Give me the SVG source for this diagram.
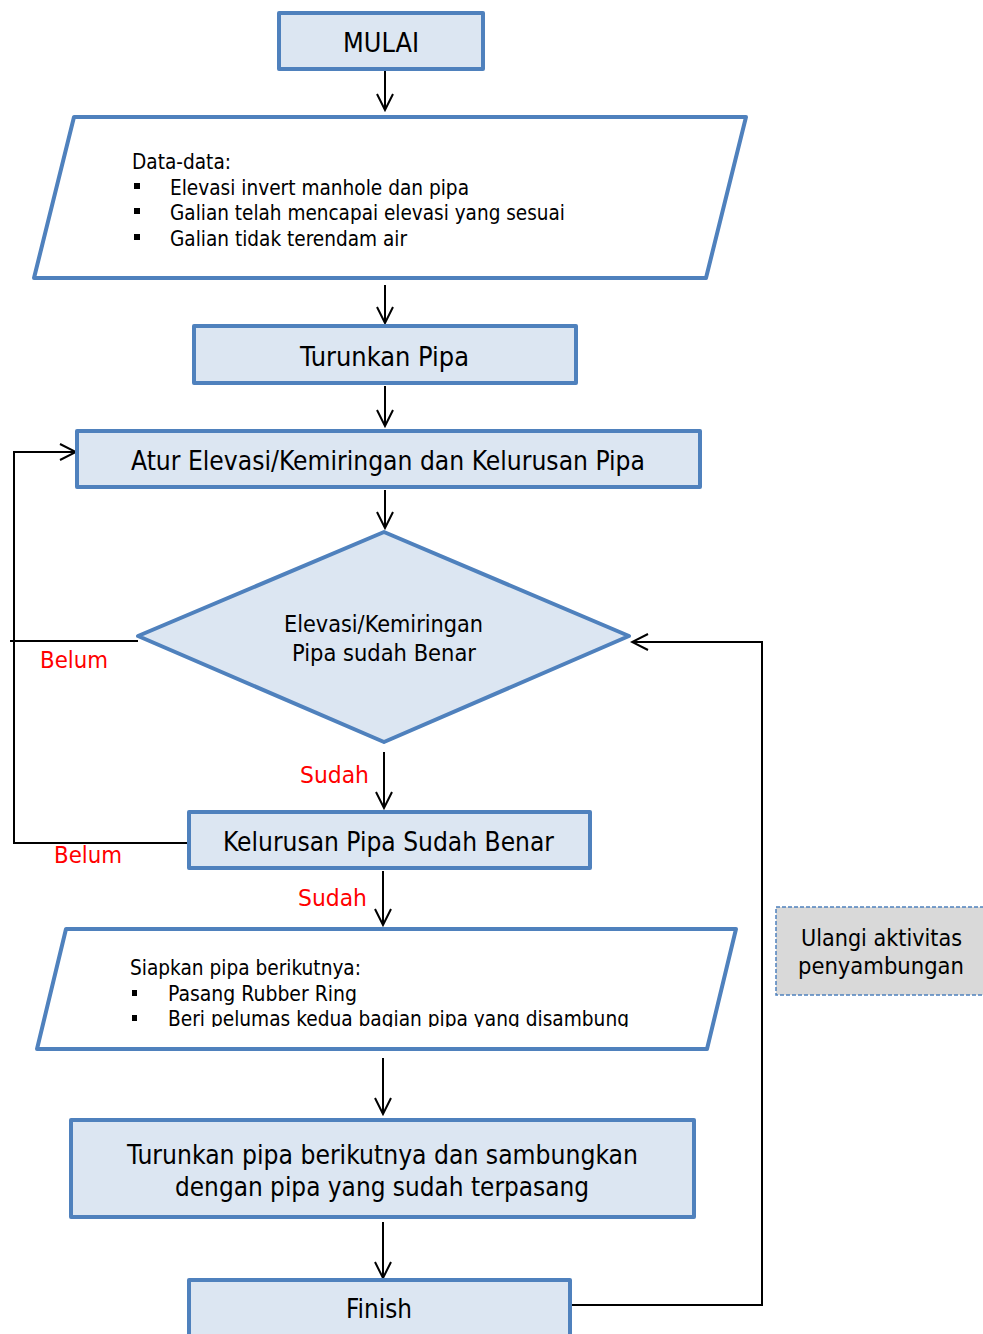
<svg xmlns="http://www.w3.org/2000/svg" width="983" height="1334" viewBox="0 0 983 1334">
<style>
.box{fill:#DCE6F2;stroke:#4F81BD;stroke-width:4;stroke-linejoin:round}
.io{fill:#FFFFFF;stroke:#4F81BD;stroke-width:4;stroke-linejoin:round}
.note{fill:#D9D9D9;stroke:#4F81BD;stroke-width:1.5;stroke-dasharray:4 2}
.t{font-family:"DejaVu Sans Condensed","DejaVu Sans",sans-serif;fill:#000}
.r{font-family:"DejaVu Sans Condensed","DejaVu Sans",sans-serif;fill:#FF0000;font-size:23px}
.c{fill:none;stroke:#000;stroke-width:2}
</style>
<defs>
<marker id="ah" viewBox="0 0 20 20" refX="18" refY="10" markerWidth="20" markerHeight="20" markerUnits="userSpaceOnUse" orient="auto">
<path d="M2,2 L18,10 L2,18" fill="none" stroke="#000" stroke-width="2"/>
</marker>
<clipPath id="clip2"><rect x="0" y="900" width="983" height="127"/></clipPath>
</defs>

<g id="connectors">
<line class="c" x1="385" y1="71" x2="385" y2="110" marker-end="url(#ah)"/>
<line class="c" x1="385" y1="285" x2="385" y2="323" marker-end="url(#ah)"/>
<line class="c" x1="385" y1="386" x2="385" y2="426" marker-end="url(#ah)"/>
<line class="c" x1="385" y1="490" x2="385" y2="528" marker-end="url(#ah)"/>
<line class="c" x1="384" y1="752" x2="384" y2="808" marker-end="url(#ah)"/>
<line class="c" x1="383" y1="871" x2="383" y2="925" marker-end="url(#ah)"/>
<line class="c" x1="383" y1="1058" x2="383" y2="1114" marker-end="url(#ah)"/>
<line class="c" x1="383" y1="1222" x2="383" y2="1278" marker-end="url(#ah)"/>
<polyline class="c" points="138,641 10,641"/>
<polyline class="c" points="189,843 14,843 14,452 76,452" marker-end="url(#ah)"/>
<polyline class="c" points="570,1305 762,1305 762,642 632,642" marker-end="url(#ah)"/>
<text class="r" x="40" y="668" textLength="68" lengthAdjust="spacingAndGlyphs">Belum</text>
<text class="r" x="54" y="863" textLength="68" lengthAdjust="spacingAndGlyphs">Belum</text>
<text class="r" x="300" y="783" textLength="69" lengthAdjust="spacingAndGlyphs">Sudah</text>
<text class="r" x="298" y="906" textLength="69" lengthAdjust="spacingAndGlyphs">Sudah</text>
</g>

<g id="mulai">
<rect class="box" x="279" y="13" width="204" height="56"/>
<text class="t" x="343" y="52" font-size="26" textLength="76" lengthAdjust="spacingAndGlyphs">MULAI</text>
</g>

<g id="data">
<polygon class="io" points="74,117 746,117 706,278 34,278"/>
<text class="t" x="132" y="169" font-size="20.5" textLength="99" lengthAdjust="spacingAndGlyphs">Data-data:</text>
<rect x="134" y="183" width="6" height="6"/>
<rect x="134" y="208" width="6" height="6"/>
<rect x="134" y="234" width="6" height="6"/>
<text class="t" x="170" y="195" font-size="20.5" textLength="299" lengthAdjust="spacingAndGlyphs">Elevasi invert manhole dan pipa</text>
<text class="t" x="170" y="220" font-size="20.5" textLength="395" lengthAdjust="spacingAndGlyphs">Galian telah mencapai elevasi yang sesuai</text>
<text class="t" x="170" y="246" font-size="20.5" textLength="237" lengthAdjust="spacingAndGlyphs">Galian tidak terendam air</text>
</g>

<g id="turunkan">
<rect class="box" x="194" y="326" width="382" height="57"/>
<text class="t" x="300" y="366" font-size="26.5" textLength="169" lengthAdjust="spacingAndGlyphs">Turunkan Pipa</text>
</g>

<g id="atur">
<rect class="box" x="77" y="431" width="623" height="56"/>
<text class="t" x="131" y="470" font-size="27" textLength="514" lengthAdjust="spacingAndGlyphs">Atur Elevasi/Kemiringan dan Kelurusan Pipa</text>
</g>

<g id="cek-elevasi">
<polygon class="box" points="384,532 629,636 384,742 138,636"/>
<text class="t" x="284" y="632" font-size="23" textLength="199" lengthAdjust="spacingAndGlyphs">Elevasi/Kemiringan</text>
<text class="t" x="292" y="661" font-size="23" textLength="184" lengthAdjust="spacingAndGlyphs">Pipa sudah Benar</text>
</g>

<g id="kelurusan">
<rect class="box" x="189" y="812" width="401" height="56"/>
<text class="t" x="223" y="851" font-size="26" textLength="331" lengthAdjust="spacingAndGlyphs">Kelurusan Pipa Sudah Benar</text>
</g>

<g id="siapkan">
<polygon class="io" points="66,929 736,929 707,1049 37,1049"/>
<text class="t" x="130" y="975" font-size="20.5" textLength="231" lengthAdjust="spacingAndGlyphs">Siapkan pipa berikutnya:</text>
<rect x="132" y="990" width="5" height="6"/>
<rect x="132" y="1015" width="5" height="6"/>
<text class="t" x="168" y="1001" font-size="20.5" textLength="189" lengthAdjust="spacingAndGlyphs">Pasang Rubber Ring</text>
<text class="t" x="168" y="1026" font-size="20.5" textLength="461" lengthAdjust="spacingAndGlyphs" clip-path="url(#clip2)">Beri pelumas kedua bagian pipa yang disambung</text>
</g>

<g id="sambung">
<rect class="box" x="71" y="1120" width="623" height="97"/>
<text class="t" x="127" y="1164" font-size="26.5" textLength="511" lengthAdjust="spacingAndGlyphs">Turunkan pipa berikutnya dan sambungkan</text>
<text class="t" x="175" y="1196" font-size="26.5" textLength="414" lengthAdjust="spacingAndGlyphs">dengan pipa yang sudah terpasang</text>
</g>

<g id="finish">
<rect class="box" x="189" y="1280" width="381" height="60"/>
<text class="t" x="346" y="1318" font-size="26.5" textLength="66" lengthAdjust="spacingAndGlyphs">Finish</text>
</g>

<g id="ulangi">
<rect class="note" x="776" y="907" width="212" height="88"/>
<text class="t" x="801" y="946" font-size="22.5" textLength="161" lengthAdjust="spacingAndGlyphs">Ulangi aktivitas</text>
<text class="t" x="798" y="974" font-size="22.5" textLength="166" lengthAdjust="spacingAndGlyphs">penyambungan</text>
</g>
</svg>
